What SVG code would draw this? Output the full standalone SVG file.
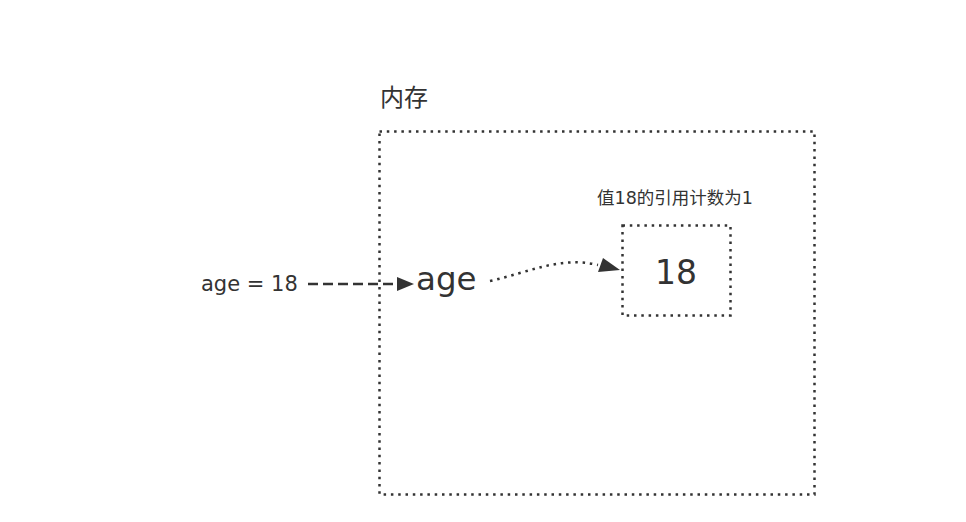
<svg xmlns="http://www.w3.org/2000/svg" width="966" height="522" viewBox="0 0 966 522">
<style>
.t{font-family:"DejaVu Sans","Noto Sans CJK SC",sans-serif;fill:#333}
.dot{fill:none;stroke:#333;stroke-width:2.5;stroke-dasharray:2.5 4.8}
.dash{fill:none;stroke:#333;stroke-width:2.5;stroke-dasharray:10 5}
</style>
<rect width="966" height="522" fill="#fff"/>
<g id="memory">
<rect class="dot" x="379.5" y="131.5" width="435" height="363"/>
<text class="t" x="380" y="106" font-size="24">内存</text>
</g>
<g id="value18">
<rect class="dot" x="622.5" y="225.5" width="108" height="90"/>
<text class="t" x="676" y="284" font-size="33" text-anchor="middle">18</text>
<text class="t" x="597" y="204" font-size="17.5">值18的引用计数为1</text>
</g>
<g id="assign">
<text class="t" x="201" y="291" font-size="21">age = 18</text>
</g>
<g id="ageVar">
<text class="t" x="416" y="290" font-size="32.5">age</text>
</g>
<g id="connectors">
<path class="dash" d="M308,284 L397,284"/>
<path d="M397,277 L414,284 L397,291 Z" fill="#333"/>
<path class="dot" d="M490,281 C530,272 560,256 598,265"/>
<path d="M598,272 L603,258 L620,270 Z" fill="#333"/>
</g>
</svg>
